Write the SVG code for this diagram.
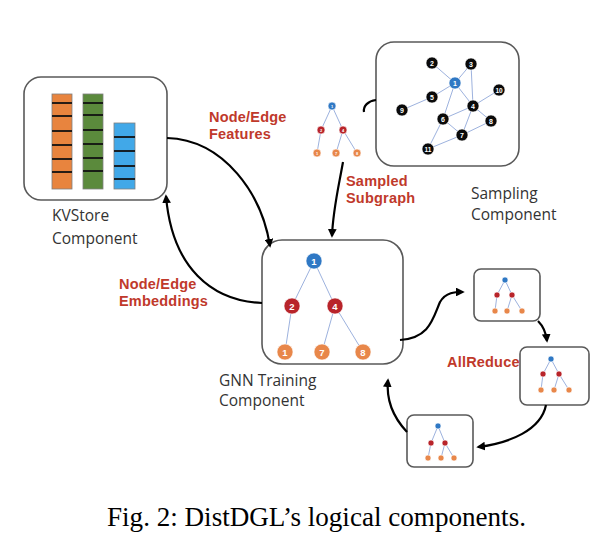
<svg xmlns="http://www.w3.org/2000/svg" width="602" height="546" viewBox="0 0 602 546">
<defs>
<style>
.box{fill:#fff;stroke:#595959;stroke-width:1.6}
.bar-o{fill:#e8843e;stroke:#7f7f7f;stroke-width:0.8}
.bar-g{fill:#5b8a3c;stroke:#7f7f7f;stroke-width:0.8}
.bar-b{fill:#41a8e8;stroke:#7f7f7f;stroke-width:0.8}
.sep{stroke:#111;stroke-width:1.8}
.e{stroke:#9db2de;stroke-width:1;fill:none}
.nb{fill:#2f78c4;stroke:#fff;stroke-width:0.6}
.nr{fill:#b8242a;stroke:#fff;stroke-width:0.6}
.no{fill:#e8874a;stroke:#fff;stroke-width:0.6}
.nk{fill:#0a0a0a;stroke:#fff;stroke-width:0.6}
.nt{fill:#fff;font-family:"Liberation Sans",Arial,sans-serif;text-anchor:middle;font-weight:bold}
.lbl{fill:#333;font-family:"Open Sans","Noto Sans",sans-serif;font-size:15.5px}
.red{fill:#c0392b;font-family:"Liberation Sans",Arial,sans-serif;font-size:14.5px;font-weight:bold;letter-spacing:0.2px}
.arr{fill:none;stroke:#000;stroke-width:2.2}
.cap{fill:#000;font-family:"Liberation Serif","Times New Roman",serif;font-size:27.1px}
</style>
<marker id="ah" viewBox="0 0 10 10" refX="8" refY="5" markerWidth="4" markerHeight="4" orient="auto" markerUnits="strokeWidth">
<path d="M0,0 L10,5 L0,10 z" fill="#000"/>
</marker>
</defs>

<g id="kvstore">
<rect class="box" x="24" y="77" width="143" height="123" rx="17"/>
<rect class="bar-o" x="52" y="94" width="20" height="95"/>
<rect class="bar-g" x="83" y="94" width="20" height="95"/>
<rect class="bar-b" x="114" y="123" width="21" height="66"/>
<g class="sep">
<line x1="52" y1="103" x2="72" y2="103"/><line x1="52" y1="116" x2="72" y2="116"/><line x1="52" y1="131" x2="72" y2="131"/><line x1="52" y1="145" x2="72" y2="145"/><line x1="52" y1="159" x2="72" y2="159"/><line x1="52" y1="172" x2="72" y2="172"/>
<line x1="83" y1="103" x2="103" y2="103"/><line x1="83" y1="115" x2="103" y2="115"/><line x1="83" y1="130" x2="103" y2="130"/><line x1="83" y1="144" x2="103" y2="144"/><line x1="83" y1="158" x2="103" y2="158"/><line x1="83" y1="171" x2="103" y2="171"/>
<line x1="114" y1="137" x2="135" y2="137"/><line x1="114" y1="151" x2="135" y2="151"/><line x1="114" y1="166" x2="135" y2="166"/><line x1="114" y1="179" x2="135" y2="179"/>
</g>
<text class="lbl" x="52" y="221">KVStore</text>
<text class="lbl" x="52" y="244">Component</text>
</g>

<g id="sampling">
<rect class="box" x="376" y="42" width="143" height="124" rx="18"/>
<g class="e">
<line x1="432" y1="63" x2="455" y2="83"/><line x1="471" y1="64" x2="455" y2="83"/><line x1="455" y1="83" x2="432" y2="97"/><line x1="432" y1="97" x2="402" y2="110"/>
<line x1="455" y1="83" x2="443" y2="119"/><line x1="455" y1="83" x2="473" y2="106"/><line x1="471" y1="64" x2="473" y2="106"/><line x1="473" y1="106" x2="499" y2="90"/>
<line x1="473" y1="106" x2="443" y2="119"/><line x1="473" y1="106" x2="491" y2="121"/><line x1="473" y1="106" x2="462" y2="135"/><line x1="443" y1="119" x2="462" y2="135"/>
<line x1="462" y1="135" x2="491" y2="121"/><line x1="443" y1="119" x2="428" y2="149"/><line x1="462" y1="135" x2="428" y2="149"/>
</g>
<circle class="nk" cx="432" cy="63" r="6"/><text class="nt" x="432" y="65.5" font-size="7">2</text>
<circle class="nk" cx="471" cy="64" r="6"/><text class="nt" x="471" y="66.5" font-size="7">3</text>
<circle class="nb" cx="455" cy="83" r="6"/><text class="nt" x="455" y="85.5" font-size="7">1</text>
<circle class="nk" cx="499" cy="90" r="6"/><text class="nt" x="499" y="92.5" font-size="6.5">10</text>
<circle class="nk" cx="432" cy="97" r="6"/><text class="nt" x="432" y="99.5" font-size="7">5</text>
<circle class="nk" cx="402" cy="110" r="6"/><text class="nt" x="402" y="112.5" font-size="7">9</text>
<circle class="nk" cx="473" cy="106" r="6"/><text class="nt" x="473" y="108.5" font-size="7">4</text>
<circle class="nk" cx="443" cy="119" r="6"/><text class="nt" x="443" y="121.5" font-size="7">6</text>
<circle class="nk" cx="491" cy="121" r="6"/><text class="nt" x="491" y="123.5" font-size="7">8</text>
<circle class="nk" cx="462" cy="135" r="6"/><text class="nt" x="462" y="137.5" font-size="7">7</text>
<circle class="nk" cx="428" cy="149" r="6"/><text class="nt" x="428" y="151.5" font-size="6.5">11</text>
<text class="lbl" x="471" y="199">Sampling</text>
<text class="lbl" x="471" y="220">Component</text>
</g>

<g id="subgraph">
<g class="e">
<line x1="332" y1="106" x2="321" y2="130"/><line x1="332" y1="106" x2="343" y2="130"/><line x1="321" y1="130" x2="317" y2="153"/><line x1="343" y1="130" x2="336" y2="153"/><line x1="343" y1="130" x2="357" y2="153"/>
</g>
<circle class="nb" cx="332" cy="106" r="4"/><circle class="nr" cx="321" cy="130" r="4"/><circle class="nr" cx="343" cy="130" r="4"/>
<circle class="no" cx="317" cy="153" r="4"/><circle class="no" cx="336" cy="153" r="4"/><circle class="no" cx="357" cy="153" r="4"/>
<g font-size="4"><text class="nt" x="332" y="107.5">1</text><text class="nt" x="321" y="131.5">2</text><text class="nt" x="343" y="131.5">4</text><text class="nt" x="317" y="154.5">1</text><text class="nt" x="336" y="154.5">7</text><text class="nt" x="357" y="154.5">8</text></g>
</g>

<g id="gnn">
<rect class="box" x="262" y="240" width="141" height="124" rx="20"/>
<g class="e">
<line x1="314" y1="261" x2="292" y2="306"/><line x1="314" y1="261" x2="335" y2="306"/><line x1="292" y1="306" x2="285" y2="352"/><line x1="335" y1="306" x2="322" y2="352"/><line x1="335" y1="306" x2="363" y2="352"/>
</g>
<circle class="nb" cx="314" cy="261" r="8"/><text class="nt" x="314" y="264.5" font-size="9.5">1</text>
<circle class="nr" cx="292" cy="306" r="8"/><text class="nt" x="292" y="309.5" font-size="9.5">2</text>
<circle class="nr" cx="335" cy="306" r="8"/><text class="nt" x="335" y="309.5" font-size="9.5">4</text>
<circle class="no" cx="285" cy="352" r="8"/><text class="nt" x="285" y="355.5" font-size="9.5">1</text>
<circle class="no" cx="322" cy="352" r="8"/><text class="nt" x="322" y="355.5" font-size="9.5">7</text>
<circle class="no" cx="363" cy="352" r="8"/><text class="nt" x="363" y="355.5" font-size="9.5">8</text>
<text class="lbl" x="219" y="386">GNN Training</text>
<text class="lbl" x="219" y="406">Component</text>
</g>

<g id="replicaA">
<rect class="box" x="474" y="269" width="66" height="52" rx="7"/>
<g class="e"><line x1="505" y1="280" x2="497" y2="295"/><line x1="505" y1="280" x2="512" y2="295"/><line x1="497" y1="295" x2="495" y2="311"/><line x1="512" y1="295" x2="507" y2="311"/><line x1="512" y1="295" x2="522" y2="311"/></g>
<circle class="nb" cx="505" cy="280" r="3"/><circle class="nr" cx="497" cy="295" r="3"/><circle class="nr" cx="512" cy="295" r="3"/>
<circle class="no" cx="495" cy="311" r="3"/><circle class="no" cx="507" cy="311" r="3"/><circle class="no" cx="522" cy="311" r="3"/>
</g>

<g id="replicaB">
<rect class="box" x="520" y="347" width="69" height="58" rx="7"/>
<g class="e"><line x1="551" y1="359" x2="543" y2="374"/><line x1="551" y1="359" x2="559" y2="374"/><line x1="543" y1="374" x2="541" y2="390"/><line x1="559" y1="374" x2="554" y2="390"/><line x1="559" y1="374" x2="569" y2="390"/></g>
<circle class="nb" cx="551" cy="359" r="3"/><circle class="nr" cx="543" cy="374" r="3"/><circle class="nr" cx="559" cy="374" r="3"/>
<circle class="no" cx="541" cy="390" r="3"/><circle class="no" cx="554" cy="390" r="3"/><circle class="no" cx="569" cy="390" r="3"/>
</g>

<g id="replicaC">
<rect class="box" x="407" y="415" width="66" height="52" rx="7"/>
<g class="e"><line x1="438" y1="426" x2="431" y2="443"/><line x1="438" y1="426" x2="445" y2="443"/><line x1="431" y1="443" x2="428" y2="458"/><line x1="445" y1="443" x2="441" y2="458"/><line x1="445" y1="443" x2="454" y2="458"/></g>
<circle class="nb" cx="438" cy="426" r="3"/><circle class="nr" cx="431" cy="443" r="3"/><circle class="nr" cx="445" cy="443" r="3"/>
<circle class="no" cx="428" cy="458" r="3"/><circle class="no" cx="441" cy="458" r="3"/><circle class="no" cx="454" cy="458" r="3"/>
</g>

<g id="connectors">
<path class="arr" d="M167,138 C225,140 262,195 270,246" marker-end="url(#ah)"/>
<path class="arr" d="M262,303 C212,301 172,268 166,196" marker-end="url(#ah)"/>
<path class="arr" d="M343,162 C338,190 333,210 332,236" marker-end="url(#ah)"/>
<path class="arr" d="M364,112 C363,106 368,101 376,100"/>
<path class="arr" d="M400,340 C430,338 433,318 440,302 C446,292 455,292 463,292" marker-end="url(#ah)"/>
<path class="arr" d="M538,321 C543,326 546,332 547,341" marker-end="url(#ah)"/>
<path class="arr" d="M546,405 C541,430 510,443 478,447" marker-end="url(#ah)"/>
<path class="arr" d="M407,432 C392,416 386,400 388,380" marker-end="url(#ah)"/>
</g>

<g id="labels">
<text class="red" x="209" y="122">Node/Edge</text>
<text class="red" x="209" y="139">Features</text>
<text class="red" x="346" y="186">Sampled</text>
<text class="red" x="346" y="203">Subgraph</text>
<text class="red" x="119" y="289">Node/Edge</text>
<text class="red" x="119" y="306">Embeddings</text>
<text class="red" x="447" y="367" letter-spacing="0">AllReduce</text>
</g>

<text class="cap" x="107" y="526">Fig. 2: DistDGL’s logical components.</text>
</svg>
